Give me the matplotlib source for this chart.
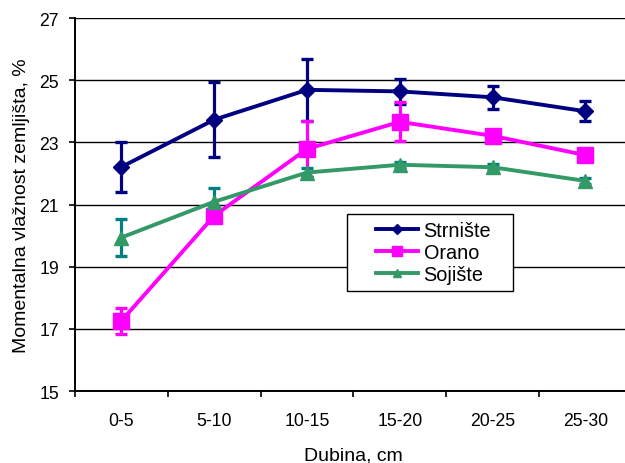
import matplotlib
matplotlib.use('Agg')
import matplotlib.pyplot as plt
from matplotlib.patches import Rectangle
import numpy as np

plt.rcParams['font.family'] = ['Liberation Sans', 'DejaVu Sans']

# depth classes and soil moisture (%) with error values
depth = ['0-5', '5-10', '10-15', '15-20', '20-25', '25-30']
strniste = [22.21, 23.73, 24.69, 24.64, 24.45, 24.00]
strniste_err = [0.80, 1.20, 1.00, 0.40, 0.37, 0.32]
orano = [17.26, 20.64, 22.79, 23.66, 23.21, 22.59]
orano_err = [0.42, 0.20, 0.90, 0.63, 0.20, 0.15]
sojiste = [19.94, 21.09, 22.03, 22.28, 22.20, 21.76]
sojiste_err = [0.60, 0.45, 0.15, 0.10, 0.10, 0.10]
yticks = [15, 17, 19, 21, 23, 25, 27]

series = [
    ('Strnište', strniste, strniste_err, '#000080', '#000080', 'D', 8.5),
    ('Orano', orano, orano_err, '#FF00FF', '#FF00FF', 's', 11.5),
    ('Sojište', sojiste, sojiste_err, '#339966', '#008080', '^', 10.5),
]

fig = plt.figure(figsize=(6.25, 4.64), dpi=100)
ax = fig.add_axes([0.12, 0.155, 0.891, 0.804])

x = np.arange(len(depth))
handles = []
for name, vals, err, col, ecol, mk, ms in series:
    ax.errorbar(x, vals, yerr=err, fmt='none', ecolor=ecol, elinewidth=2.3,
                capsize=4.0, capthick=2.4, zorder=3)
    h, = ax.plot(x, vals, color=col, lw=2.8, marker=mk, ms=ms,
                 mec=col, mfc=col, zorder=4, label=name)
    handles.append(h)

ax.set_xlim(-0.5, len(depth) - 0.5)
ax.set_ylim(15, 27)
ax.set_yticks(yticks)
ax.yaxis.grid(True, color='black', lw=1.0)
ax.set_axisbelow(True)

# tick marks at category borders, labels at centres
ax.set_xticks(np.arange(-0.5, len(depth) + 0.5, 1.0))
ax.set_xticklabels([])
ax.set_xticks(x, minor=True)
ax.set_xticklabels(depth, minor=True)
ax.tick_params(axis='x', which='major', direction='out', length=4.5, width=1.2)
ax.tick_params(axis='x', which='minor', length=0, pad=15, labelsize=12.7)
ax.tick_params(axis='y', direction='out', length=4.5, width=1.2, pad=7, labelsize=12.7)

for s in ['top', 'right']:
    ax.spines[s].set_visible(False)
for s in ['left', 'bottom']:
    ax.spines[s].set_linewidth(1.4)

ax.set_xlabel('Dubina, cm', fontsize=14, labelpad=13)
ax.set_ylabel('Momentalna vlažnost zemljišta, %', fontsize=14, labelpad=7)

# legend box drawn separately so the entries can sit off-centre like in Excel
ax.add_patch(Rectangle((0.488, 0.268), 0.298, 0.2065, transform=ax.transAxes,
                       facecolor='white', edgecolor='black', lw=1.0, zorder=5))
leg = ax.legend(handles=handles, loc='center left',
                bbox_to_anchor=(0.5404, 0.371), borderaxespad=0, borderpad=0,
                fontsize=14.3, frameon=False, handlelength=2.1,
                handletextpad=0.3, labelspacing=0.15, markerscale=0.6)
leg.set_zorder(6)

fig.savefig('out.png', dpi=100)
